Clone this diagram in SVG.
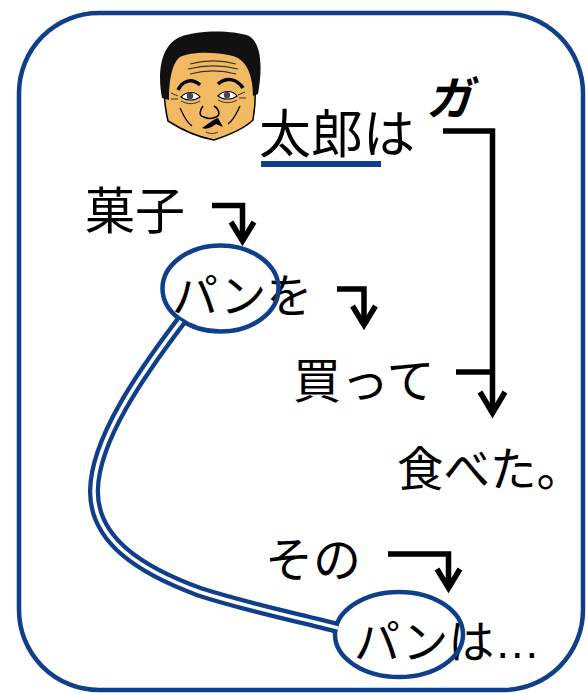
<svg xmlns="http://www.w3.org/2000/svg" width="586" height="693" viewBox="0 0 586 693">
  <style>
    .jp { font-family: "Noto Sans CJK JP", "Noto Sans", sans-serif; fill: #000; }
    .frame { fill: #fff; stroke: #0f3f8b; stroke-width: 4.5; }
    .ring { fill: none; stroke: #0f3f8b; stroke-width: 4.5; }
    .arrow { fill: none; stroke: #000; stroke-width: 5.5; stroke-linejoin: miter; stroke-linecap: butt; }
    .rail { fill: none; stroke: #0f3f8b; stroke-width: 12; stroke-linecap: butt; }
    .railgap { fill: none; stroke: #fff; stroke-width: 3.5; stroke-linecap: butt; }
  </style>

  <rect width="586" height="693" fill="#fff"/>
  <rect class="frame" x="19" y="13" width="564" height="677" rx="80" ry="80"/>

  <!-- cartoon portrait of Taro -->
  <g id="face">
    <path d="M169,58 C185,48 236,47 252,58 C256,78 256,102 253,120 C245,128 232,134 214,140 C197,137 182,130 168,121 C163,100 163,78 169,58 Z" fill="#f2b963" stroke="#000" stroke-width="1.5"/>
    <path d="M162,98 C157,72 161,45 180,37 C200,30 231,30 249,36 C261,43 263,66 258,94 L253,96 C253,76 247,60 233,56 C212,51 190,52 180,57 C172,63 169,80 169,100 Z" fill="#111"/>
    <!-- forehead wrinkles -->
    <path d="M190,64 C205,60 222,60 236,64 M188,69 C205,65 222,65 238,69 M190,74 C205,70 222,70 236,74" fill="none" stroke="#333" stroke-width="1.2"/>
    <!-- brows -->
    <path d="M178,90 C183,80 192,78 200,85" fill="none" stroke="#000" stroke-width="3.5"/>
    <path d="M218,84 C226,77 236,78 243,88" fill="none" stroke="#000" stroke-width="3.5"/>
    <!-- eyes -->
    <path d="M181,97 C186,91 196,91 200,97 C195,101 186,101 181,97 Z" fill="#fff" stroke="#000" stroke-width="1.2"/>
    <circle cx="190" cy="96" r="3.2" fill="#445"/>
    <path d="M218,96 C223,90 233,90 237,96 C232,100 223,100 218,96 Z" fill="#fff" stroke="#000" stroke-width="1.2"/>
    <circle cx="227" cy="95" r="3.2" fill="#445"/>
    <path d="M181,101 C188,105 195,104 200,101 M218,100 C225,104 232,103 237,100" fill="none" stroke="#333" stroke-width="1"/>
    <!-- crow's feet -->
    <path d="M171,93 L178,96 M171,99 L178,99 M245,92 L238,95 M246,98 L239,98" fill="none" stroke="#333" stroke-width="1"/>
    <!-- nose -->
    <path d="M203,106 C200,110 198,116 204,117 C208,119 212,119 216,117 C221,115 219,109 214,106" fill="none" stroke="#000" stroke-width="1.5"/>
    <!-- cheek lines -->
    <path d="M180,108 C184,116 186,122 192,126 M240,106 C236,114 234,120 228,124" fill="none" stroke="#000" stroke-width="1.3"/>
    <!-- mouth -->
    <path d="M202,128 C208,124 214,119 218,118 L223,127 L216,124 C212,127 207,130 202,128 Z" fill="#000"/>
    <path d="M206,132 C210,134 214,134 218,132" fill="none" stroke="#333" stroke-width="1"/>
  </g>

  <g id="taro">
    <text class="jp" x="259" y="153" font-size="52">太郎は</text>
    <rect x="261" y="161" width="120" height="6" fill="#0f3f8b"/>
  </g>
  <g id="ga">
    <text class="jp" x="426" y="115" font-size="46" font-style="italic" font-weight="bold">ガ</text>
  </g>
  <g id="kashi">
    <text class="jp" x="85" y="229" font-size="50">菓子</text>
  </g>
  <g id="pan-wo">
    <text class="jp" x="172" y="312" font-size="46">パンを</text>
    <ellipse class="ring" cx="220.5" cy="288.5" rx="58" ry="43"/>
  </g>
  <g id="katte">
    <text class="jp" x="293" y="398" font-size="48">買って</text>
  </g>
  <g id="tabeta">
    <text class="jp" x="397" y="486" font-size="46.5">食べた。</text>
  </g>
  <g id="sono">
    <text class="jp" x="265" y="577" font-size="48">その</text>
  </g>
  <g id="pan-wa">
    <text class="jp" x="354" y="658" font-size="46">パンは<tspan font-family="Liberation Sans, sans-serif">…</tspan></text>
    <ellipse class="ring" cx="399" cy="634.5" rx="64" ry="42.5"/>
  </g>

  <g id="connectors">
    <!-- double rail linking the two パン -->
    <path class="rail" d="M181,321 C140,375 95,440 94,490 C93,540 140,570 200,592 C250,608 300,618 338,628"/>
    <path class="railgap" d="M181,321 C140,375 95,440 94,490 C93,540 140,570 200,592 C250,608 300,618 338,628"/>

    <!-- 太郎は → 食べた。 with 買って joining -->
    <path class="arrow" d="M443,131 H492.5 V412"/>
    <path class="arrow" d="M456,372 H492.5"/>
    <path class="arrow" d="M480,392 L492.5,413 L505,392"/>

    <!-- 菓子 → パン -->
    <path class="arrow" d="M212,205.5 H242.5 V240"/>
    <path class="arrow" d="M231,222 L242.5,241 L254,222"/>

    <!-- パンを → 買って -->
    <path class="arrow" d="M337,289 H364 V324"/>
    <path class="arrow" d="M352.5,306 L364,325 L375.5,306"/>

    <!-- その → パン -->
    <path class="arrow" d="M388,554 H448.5 V587"/>
    <path class="arrow" d="M437,569 L448.5,588 L460,569"/>
  </g>
</svg>
